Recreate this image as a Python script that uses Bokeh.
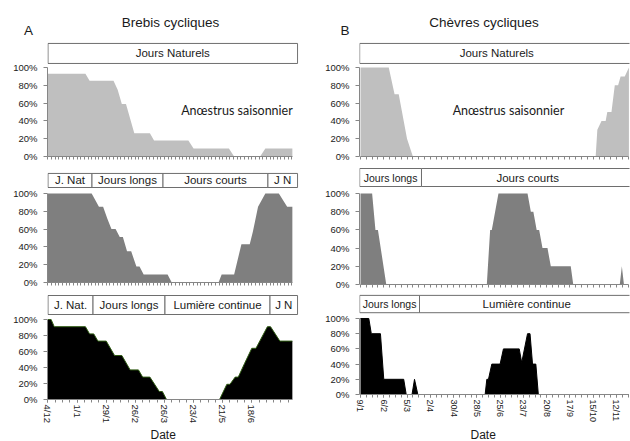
import numpy as np
from bokeh.plotting import figure
from bokeh.layouts import row, column
from bokeh.models import Range1d, FixedTicker, PrintfTickFormatter, Label, Title
from bokeh.embed import file_html
from bokeh.resources import INLINE

# ---------------- data ----------------
a_tick_days = [0, 28, 56, 84, 112, 140, 168, 196]
a_tick_labels = ["4/12", "1/1", "29/1", "26/2", "26/3", "23/4", "21/5", "18/6"]
b_tick_days = [0, 28, 56, 84, 112, 140, 168, 196, 224, 252, 280, 308]
b_tick_labels = ["9/1", "6/2", "5/3", "2/4", "30/4", "28/5", "25/6", "23/7",
                 "20/8", "17/9", "15/10", "12/11"]

# Brebis (A) - % femelles cycliques
a_nat_days = [0, 36, 40, 63, 67, 71, 75, 83, 98, 102, 135, 140, 174, 179, 204, 209, 235]
a_nat_vals = [93, 93, 85, 85, 75, 59, 59, 26, 26, 18, 18, 9, 9, 0, 0, 9, 9]
a_court_days = [0, 42, 49, 53, 57, 61, 65, 69, 72, 76, 80, 85, 88, 92, 115, 119, 164,
                167, 179, 186, 194, 197, 202, 209, 222, 230, 235]
a_court_vals = [100, 100, 85, 85, 72, 60, 60, 51, 51, 35, 35, 18, 18, 9, 9, 0, 0,
                9, 9, 43, 43, 57, 85, 100, 100, 85, 85]
a_cont_days = [0, 3, 6, 36, 40, 44, 48, 56, 64, 71, 79, 87, 91, 98, 107, 110, 114,
               165, 172, 175, 180, 183, 189, 196, 200, 211, 214, 223, 235]
a_cont_vals = [100, 100, 91, 91, 82, 82, 73, 73, 55, 55, 37, 37, 28, 28, 10, 10, 0,
               0, 19, 19, 28, 28, 45, 64, 64, 91, 91, 73, 73]

# Chèvres (B)
b_nat_days = [0, 34, 41, 46, 56, 63, 283, 285, 290, 295, 297, 302, 306, 310, 313, 318, 323]
b_nat_vals = [100, 100, 70, 70, 20, 0, 0, 30, 40, 40, 50, 50, 80, 80, 90, 90, 100]
b_court_days = [0, 14, 18, 21, 31, 152, 156, 158, 166, 201, 205, 208, 212, 215, 219,
                225, 229, 253, 256, 312, 314.5, 317, 323]
b_court_vals = [100, 100, 60, 60, 0, 0, 60, 60, 100, 100, 80, 80, 60, 60, 40,
                40, 20, 20, 0, 0, 20, 0, 0]
b_cont_days = [0, 10, 13, 24, 28, 52, 55, 62, 65, 69, 150, 152, 154, 158, 168, 172,
               191, 194, 201, 204, 207, 211, 214, 323]
b_cont_vals = [100, 100, 80, 80, 20, 20, 0, 0, 20, 0, 0, 20, 20, 40, 40, 60,
               60, 42, 80, 80, 40, 40, 0, 0]

# photoperiod phases (day boundaries and labels)
a1_bounds = [0, 240]
a1_labels = ["Jours Naturels"]
a2_bounds = [0, 42.3, 110.6, 211.5, 240]
a2_labels = ["J. Nat", "Jours longs", "Jours courts", "J N"]
a3_bounds = [0, 43.3, 112.5, 213.5, 240]
a3_labels = ["J. Nat.", "Jours longs", "Lumière continue", "J N"]
b1_bounds = [-1, 329]
b1_labels = ["Jours Naturels"]
b2_bounds = [-1, 73.4, 329]
b2_labels = ["Jours longs", "Jours courts"]
b3_bounds = [-1, 71, 329]
b3_labels = ["Jours longs", "Lumière continue"]

FONT = "Liberation Sans"
AXC = "#868686"
TXT = "#1a1a1a"
LIGHT = "#bfbfbf"
MID = "#7f7f7f"


def make_panel(width, height, mb, xr, yr, tick_days, tick_labels, data_end,
               minor_step, show_labels, label_size="9.5px"):
    p = figure(width=width, height=height, x_range=Range1d(*xr), y_range=Range1d(*yr),
               output_backend="svg", toolbar_location=None, title=None,
               min_border_left=mb[0], min_border_right=mb[1],
               min_border_top=mb[2], min_border_bottom=mb[3])
    p.grid.visible = False
    p.outline_line_color = None
    p.background_fill_color = "white"
    p.border_fill_color = "white"

    ya = p.yaxis[0]
    ya.ticker = FixedTicker(ticks=[0, 20, 40, 60, 80, 100])
    ya.formatter = PrintfTickFormatter(format="%d%%")
    ya.bounds = (0, 100)
    ya.minor_tick_line_color = None
    ya.major_tick_out = 4
    ya.major_tick_in = 0
    ya.axis_line_color = AXC
    ya.major_tick_line_color = AXC
    ya.major_label_text_font = FONT
    ya.major_label_text_font_size = "9.5px"
    ya.major_label_text_color = TXT
    ya.major_label_standoff = 6

    xa = p.xaxis[0]
    minor = [float(v) for v in np.arange(0, data_end + 0.01, minor_step)]
    xa.bounds = (0, data_end)
    xa.axis_line_color = AXC
    xa.major_tick_line_color = AXC
    xa.minor_tick_line_color = AXC
    xa.major_tick_out = 3
    xa.major_tick_in = 0
    xa.minor_tick_out = 3
    xa.minor_tick_in = 0
    if show_labels:
        xa.ticker = FixedTicker(ticks=tick_days, minor_ticks=minor)
        xa.major_label_overrides = {d: l for d, l in zip(tick_days, tick_labels)}
        xa.major_label_orientation = "vertical"
        xa.major_label_text_font = FONT
        xa.major_label_text_font_size = label_size
        xa.major_label_text_color = TXT
        xa.major_label_standoff = 2
    else:
        xa.ticker = FixedTicker(ticks=[], minor_ticks=sorted(set(minor + [float(d) for d in tick_days])))
    return p


def title_fig(width, xr):
    p = figure(width=width, height=40, x_range=Range1d(*xr), y_range=Range1d(0, 40),
               output_backend="svg", toolbar_location=None, title=None,
               x_axis_location=None, y_axis_location=None, frame_align=False,
               min_border_left=0, min_border_right=0, min_border_top=0, min_border_bottom=0)
    p.grid.visible = False
    p.outline_line_color = None
    p.background_fill_color = "white"
    p.border_fill_color = "white"
    return p


def header(p, bounds, labels, y0, y1, size="11.5px", sizes=None):
    p.quad(left=bounds[:-1], right=bounds[1:], bottom=y0, top=y1,
           fill_color="white", line_color="#6e6e6e", line_width=1)
    for i, lab in enumerate(labels):
        s = sizes[i] if sizes else size
        p.add_layout(Label(x=(bounds[i] + bounds[i + 1]) / 2, y=(y0 + y1) / 2, text=lab,
                           text_font=FONT, text_font_size=s, text_align="center",
                           text_baseline="middle", text_color=TXT))


def text(p, x, y, t, size, font=FONT, align="center"):
    p.add_layout(Label(x=x, y=y, text=t, text_font=font, text_font_size=size,
                       text_align=align, text_baseline="middle", text_color=TXT))


def date_title(p, offset):
    p.add_layout(Title(text="Date", align="left", offset=offset, standoff=0,
                       text_font=FONT, text_font_size="12px", text_font_style="normal",
                       text_color=TXT), "below")


# ---------------- column A ----------------
ax = (-0.48, 240.9)
ta = title_fig(310, (-47.5 / 1.04, (310 - 47.5) / 1.04))
text(ta, 117.8, 18, "Brebis cycliques", "13.5px")
text(ta, -18.7, 10, "A", "13.5px")

a1 = make_panel(310, 128, (47, 12, 0, 12), ax, (0, 130.3), a_tick_days, a_tick_labels,
                235, 3.5, False)
header(a1, a1_bounds, a1_labels, 104.5, 127.0)
a1.varea(x=a_nat_days, y1=0, y2=a_nat_vals, fill_color=LIGHT)
text(a1, 181.7, 51.7, "Anœstrus saisonnier", "12.5px", font="Lato")

a2 = make_panel(310, 122, (47, 12, 2, 8), ax, (0, 125.8), a_tick_days, a_tick_labels,
                235, 3.5, False)
header(a2, a2_bounds, a2_labels, 106.7, 122.5)
a2.varea(x=a_court_days, y1=0, y2=a_court_vals, fill_color=MID)

a3 = make_panel(310, 151, (47, 12, 2, 42), ax, (0, 133.75), a_tick_days, a_tick_labels,
                235, 7, True, "9.5px")
header(a3, a3_bounds, a3_labels, 106.25, 130.0)
a3.varea(x=a_cont_days, y1=0, y2=a_cont_vals, fill_color="black")
a3.line(x=a_cont_days, y=a_cont_vals, line_color="#2e5a12", line_width=1)
date_title(a3, 103)

# ---------------- column B ----------------
bx = (-1.2, 323.7)
tb = title_fig(320, (-50 / 0.831, (320 - 50) / 0.831))
text(tb, 148.6, 18, "Chèvres cycliques", "13.5px")
text(tb, -18.7, 10, "B", "13.5px")

b1 = make_panel(320, 126, (49, 1, 0, 10), bx, (0, 130.3), b_tick_days, b_tick_labels,
                323, 7, False)
header(b1, b1_bounds, b1_labels, 104.5, 127.0)
b1.varea(x=b_nat_days, y1=0, y2=b_nat_vals, fill_color=LIGHT)
text(b1, 178, 51.7, "Anœstrus saisonnier", "12.5px", font="Lato")

b2 = make_panel(320, 124, (49, 1, 0, 6), bx, (0, 129.7), b_tick_days, b_tick_labels,
                323, 7, False)
header(b2, b2_bounds, b2_labels, 107.7, 127.5, sizes=["10.5px", "11.5px"])
b2.varea(x=b_court_days, y1=0, y2=b_court_vals, fill_color=MID)

b3 = make_panel(320, 151, (49, 1, 2, 43), bx, (0, 134.2), b_tick_days, b_tick_labels,
                323, 7, True, "9px")
header(b3, b3_bounds, b3_labels, 107.6, 130.4, sizes=["10.5px", "11.5px"])
b3.varea(x=b_cont_days, y1=0, y2=b_cont_vals, fill_color="black")
b3.line(x=b_cont_days, y=b_cont_vals, line_color="black", line_width=1)
date_title(b3, 111)

layout = row(column(ta, a1, a2, a3, spacing=0), column(tb, b1, b2, b3, spacing=0), spacing=0)

open("out.html", "w").write(file_html(layout, INLINE))
